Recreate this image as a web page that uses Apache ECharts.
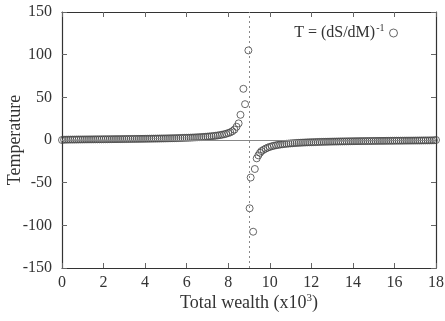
<!DOCTYPE html>
<html>
<head>
<meta charset="utf-8">
<script src="https://cdn.jsdelivr.net/npm/echarts@6/dist/echarts.min.js"></script>
<style>
  html, body { margin: 0; padding: 0; background: #fff; }
  #chart { width: 445px; height: 321px; }
</style>
</head>
<body>
<div id="chart"></div>
<script>
// Temperature T = (dS/dM)^-1 against total wealth M (thousands)
const wealthBelow = [
  0.0, 0.1, 0.2, 0.3, 0.4, 0.5, 0.6, 0.7, 0.8, 0.9,
  1.0, 1.1, 1.2, 1.3, 1.4, 1.5, 1.6, 1.7, 1.8, 1.9,
  2.0, 2.1, 2.2, 2.3, 2.4, 2.5, 2.6, 2.7, 2.8, 2.9,
  3.0, 3.1, 3.2, 3.3, 3.4, 3.5, 3.6, 3.7, 3.8, 3.9,
  4.0, 4.1, 4.2, 4.3, 4.4, 4.5, 4.6, 4.7, 4.8, 4.9,
  5.0, 5.1, 5.2, 5.3, 5.4, 5.5, 5.6, 5.7, 5.8, 5.9,
  6.0, 6.1, 6.2, 6.3, 6.4, 6.5, 6.6, 6.7, 6.8, 6.9,
  7.0, 7.1, 7.2, 7.3, 7.4, 7.5, 7.6, 7.7, 7.8, 7.9,
  8.0, 8.1, 8.2, 8.3, 8.4, 8.5, 8.59, 8.73, 8.81, 8.97
];
const tempBelow = [
  0.0, 0.35, 0.40, 0.44, 0.48, 0.51, 0.53, 0.56, 0.59, 0.61,
  0.64, 0.66, 0.68, 0.71, 0.73, 0.75, 0.77, 0.80, 0.82, 0.84,
  0.87, 0.89, 0.91, 0.94, 0.96, 0.99, 1.01, 1.04, 1.06, 1.09,
  1.12, 1.15, 1.18, 1.20, 1.24, 1.27, 1.30, 1.33, 1.37, 1.40,
  1.44, 1.47, 1.51, 1.55, 1.60, 1.64, 1.68, 1.73, 1.78, 1.83,
  1.88, 1.94, 2.00, 2.06, 2.12, 2.19, 2.26, 2.34, 2.42, 2.51,
  2.60, 2.69, 2.80, 2.91, 3.03, 3.16, 3.29, 3.44, 3.61, 3.78,
  3.98, 4.20, 4.44, 4.71, 5.01, 5.35, 5.74, 6.19, 6.70, 7.34,
  8.1, 9.0, 10.3, 12.2, 15.5, 19.5, 29.5, 60, 42, 105
];
const wealthAbove = [
  9.03, 9.08, 9.2, 9.28, 9.37, 9.45, 9.53, 9.6,
  9.7, 9.8, 9.9, 10.0, 10.1, 10.2, 10.3, 10.4, 10.5, 10.6,
  10.7, 10.8, 10.9, 11.0, 11.1, 11.2, 11.3, 11.4, 11.5, 11.6,
  11.7, 11.8, 11.9, 12.0, 12.1, 12.2, 12.3, 12.4, 12.5, 12.6,
  12.7, 12.8, 12.9, 13.0, 13.1, 13.2, 13.3, 13.4, 13.5, 13.6,
  13.7, 13.8, 13.9, 14.0, 14.1, 14.2, 14.3, 14.4, 14.5, 14.6,
  14.7, 14.8, 14.9, 15.0, 15.1, 15.2, 15.3, 15.4, 15.5, 15.6,
  15.7, 15.8, 15.9, 16.0, 16.1, 16.2, 16.3, 16.4, 16.5, 16.6,
  16.7, 16.8, 16.9, 17.0, 17.1, 17.2, 17.3, 17.4, 17.5, 17.6,
  17.7, 17.8, 17.9, 18.0
];
const tempAbove = [
  -80, -44, -107.5, -34, -21.5, -18, -15, -13,
  -11.5, -10.1, -8.96, -8.07, -7.34, -6.70, -6.19, -5.74, -5.35, -5.01,
  -4.71, -4.44, -4.20, -3.98, -3.78, -3.61, -3.44, -3.29, -3.16, -3.03,
  -2.91, -2.80, -2.69, -2.60, -2.51, -2.42, -2.34, -2.26, -2.19, -2.12,
  -2.06, -2.00, -1.94, -1.88, -1.83, -1.78, -1.73, -1.68, -1.64, -1.60,
  -1.55, -1.51, -1.47, -1.44, -1.40, -1.37, -1.33, -1.30, -1.27, -1.24,
  -1.20, -1.18, -1.15, -1.12, -1.09, -1.06, -1.04, -1.01, -0.99, -0.96,
  -0.94, -0.91, -0.89, -0.87, -0.84, -0.82, -0.80, -0.77, -0.75, -0.73,
  -0.71, -0.68, -0.66, -0.64, -0.61, -0.59, -0.56, -0.53, -0.51, -0.48,
  -0.44, -0.40, -0.35, 0.0
];
const criticalWealth = 9;

const points = [];
wealthBelow.forEach((x, i) => points.push([x, tempBelow[i]]));
wealthAbove.forEach((x, i) => points.push([x, tempAbove[i]]));

const serif = '"Liberation Serif", "DejaVu Serif", serif';
const ink = '#333';
const markColor = '#444';

const chart = echarts.init(document.getElementById('chart'), null, { renderer: 'canvas' });

const frameAxis = () => ({
  axisLine: { show: true, onZero: false, lineStyle: { color: ink, width: 1.2 } },
  axisTick: { show: true, inside: true, length: 5, lineStyle: { color: '#666', width: 1 } },
  splitLine: { show: false }
});

chart.setOption({
  animation: false,
  backgroundColor: '#fff',
  grid: { left: 62, right: 9, top: 12, bottom: 53, containLabel: false, outerBoundsMode: 'none' },
  legend: {
    show: true,
    right: 42,
    top: 18,
    align: 'right',
    icon: 'circle',
    itemWidth: 8,
    itemHeight: 8,
    itemGap: 9,
    itemStyle: { color: 'transparent', borderColor: markColor, borderWidth: 1 },
    formatter: () => '{a|T = (dS/dM)}{s|-1}',
    textStyle: {
      rich: {
        a: { fontFamily: serif, fontSize: 16, color: ink },
        s: { fontFamily: serif, fontSize: 10, color: ink, verticalAlign: 'top', padding: [0, 0, 10, 1] }
      }
    },
    data: ['T']
  },
  xAxis: [
    Object.assign(frameAxis(), {
      type: 'value', min: 0, max: 18, interval: 2, position: 'bottom',
      name: '{a|Total wealth (x10}{s|3}{a|)}',
      nameLocation: 'middle', nameGap: 25, nameMoveOverlap: false,
      nameTextStyle: {
        rich: {
          a: { fontFamily: serif, fontSize: 18, color: ink },
          s: { fontFamily: serif, fontSize: 11, color: ink, padding: [0, 0, 10, 0] }
        }
      },
      axisLabel: { fontFamily: serif, fontSize: 16, color: ink, margin: 7 }
    }),
    Object.assign(frameAxis(), {
      type: 'value', min: 0, max: 18, interval: 2, position: 'top',
      axisLabel: { show: false }
    })
  ],
  yAxis: [
    Object.assign(frameAxis(), {
      type: 'value', min: -150, max: 150, interval: 50, position: 'left',
      name: 'Temperature', nameLocation: 'middle', nameGap: 38, nameMoveOverlap: false,
      nameTextStyle: { fontFamily: serif, fontSize: 18, color: ink },
      axisLabel: { fontFamily: serif, fontSize: 16, color: ink, margin: 10 }
    }),
    Object.assign(frameAxis(), {
      type: 'value', min: -150, max: 150, interval: 50, position: 'right',
      axisLabel: { show: false }
    })
  ],
  series: [{
    name: 'T',
    type: 'scatter',
    xAxisIndex: 0,
    yAxisIndex: 0,
    symbol: 'circle',
    symbolSize: 7,
    itemStyle: { color: 'transparent', borderColor: markColor, borderWidth: 1 },
    data: points,
    markLine: {
      silent: true,
      symbol: 'none',
      label: { show: false },
      data: [
        { yAxis: 0, lineStyle: { color: '#888', width: 1, type: 'solid' } },
        { xAxis: criticalWealth, lineStyle: { color: '#888', width: 1, type: [2, 3] } }
      ]
    },
    z: 3
  }]
});
</script>
</body>
</html>
